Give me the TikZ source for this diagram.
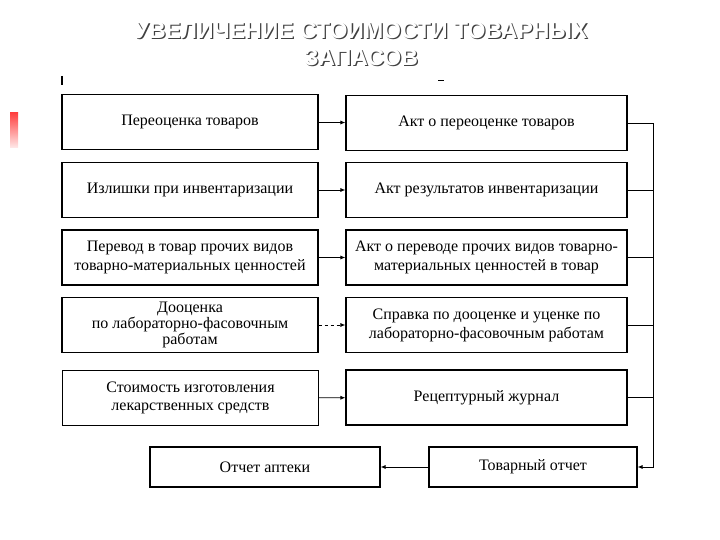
\documentclass[tikz,border=0pt]{standalone}
\usepackage{fontspec}
\setmainfont{Liberation Serif}
\newfontfamily\titlefont{Liberation Sans}
\usetikzlibrary{arrows.meta}
\tikzset{
  box/.style={draw=black, line width=1.1pt, rectangle, align=center, inner sep=2pt,
    font=\fontsize{16}{19}\selectfont},
  lbox/.style={box, minimum width=256pt, minimum height=55pt},
  rbox/.style={box, minimum width=281pt, minimum height=55pt},
  conn/.style={line width=0.8pt, -{Latex[length=5pt,width=4pt]}},
  bus/.style={line width=0.8pt},
  ttl/.style={font=\titlefont\bfseries\fontsize{23}{27}\selectfont, align=center}
}
\begin{document}
\begin{tikzpicture}[x=1pt,y=-1pt]
\useasboundingbox (0,0) rectangle (720,540);
% title with shadow
\node[ttl, text=black!75] at (362.3,45.3) {УВЕЛИЧЕНИЕ СТОИМОСТИ ТОВАРНЫХ\\ЗАПАСОВ};
\node[ttl, text=white] (title) at (361,44) {УВЕЛИЧЕНИЕ СТОИМОСТИ ТОВАРНЫХ\\ЗАПАСОВ};
% red bar and small marks
\shade[top color=red!75, bottom color=red!8, draw=none] (10,113) rectangle (18,148);
\draw[line width=1.2pt] (62,76) -- (62,85);
\draw[line width=0.8pt] (438,80) -- (444,80);
% left column
\node[lbox] (L1) at (190,122) {Переоценка товаров};
\node[lbox] (L2) at (190,190) {Излишки при инвентаризации};
\node[lbox, font=\fontsize{16}{19}\selectfont] (L3) at (190,257.5) {Перевод в товар прочих видов\\товарно-материальных ценностей};
\node[lbox, font=\fontsize{16}{16}\selectfont] (L4) at (190,325) {Дооценка\\по лабораторно-фасовочным\\работам};
\node[lbox, font=\fontsize{16}{18}\selectfont] (L5) at (190.5,398) {Стоимость изготовления\\лекарственных средств};
% right column
\node[rbox] (R1) at (486.5,123) {Акт о переоценке товаров};
\node[rbox] (R2) at (486.5,190) {Акт результатов инвентаризации};
\node[rbox, font=\fontsize{16}{19}\selectfont] (R3) at (486.5,257.5) {Акт о переводе прочих видов товарно-\\материальных ценностей в товар};
\node[rbox, font=\fontsize{16}{19}\selectfont] (R4) at (486.5,325) {Справка по дооценке и уценке по\\лабораторно-фасовочным работам};
\node[rbox] (R5) at (486.5,397.5) {Рецептурный журнал};
% bottom
\node[box, minimum width=230pt, minimum height=40pt] (OA) at (265,467) {Отчет аптеки};
\node[box, minimum width=208pt, minimum height=40pt] (TO) at (533,467) {Товарный отчет};
% connectors
\draw[conn] (L1) -- (R1);
\draw[conn] (L2) -- (R2);
\draw[conn] (L3) -- (R3);
\draw[conn, dashed] (L4) -- (R4);
\draw[conn] (L5) -- (R5);
\coordinate (busx) at (653,0);
\draw[bus] (R2.east) -- (R2.east -| busx);
\draw[bus] (R3.east) -- (R3.east -| busx);
\draw[bus] (R4.east) -- (R4.east -| busx);
\draw[bus] (R5.east) -- (R5.east -| busx);
\draw[conn] (R1.east) -- (R1.east -| busx) |- (TO.east);
\draw[conn] (TO) -- (OA);
\end{tikzpicture}
\end{document}
